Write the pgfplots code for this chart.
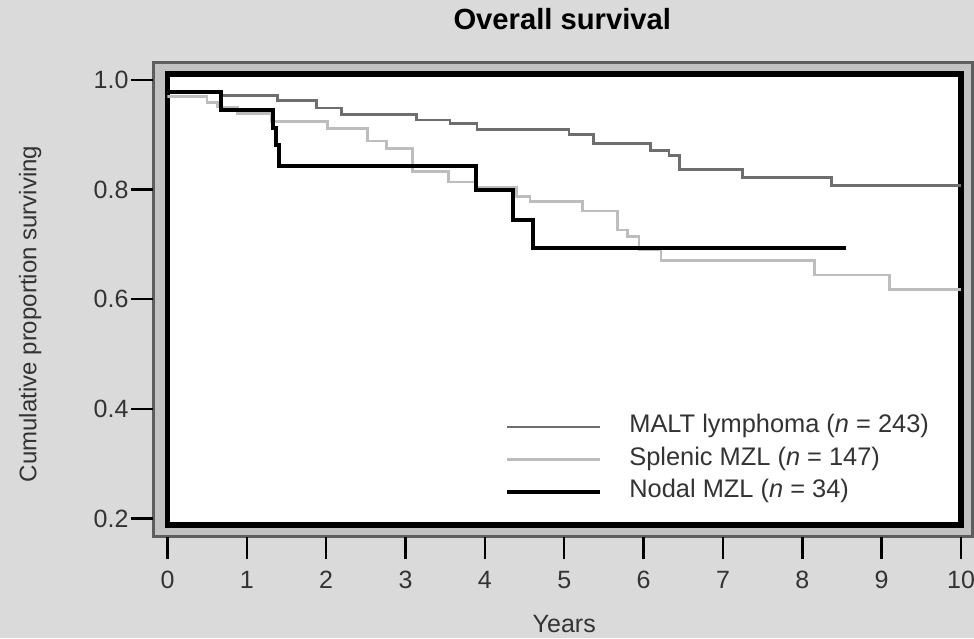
\documentclass[border=0pt]{standalone}
\usepackage{pgfplots}
\pgfplotsset{compat=1.18}
\usepackage{fontspec}
\setmainfont{Liberation Sans}
\definecolor{bgg}{HTML}{DADADA}
\definecolor{band}{HTML}{C2C2C2}
\definecolor{frm}{HTML}{5E5E5E}
\definecolor{malt}{HTML}{6E6E6E}
\definecolor{spl}{HTML}{BDBDBD}
\begin{document}
\begin{tikzpicture}
\useasboundingbox (-83.75pt,-56.5pt) rectangle (403.25pt,262.5pt);
\clip (-83.75pt,-56.5pt) rectangle (403.25pt,262.5pt);
\fill[bgg] (-83.75pt,-56.5pt) rectangle (403.25pt,262.5pt);
\filldraw[fill=band, draw=frm, line width=1.5pt] (-7pt,-5.75pt) rectangle (402.25pt,231pt);
\begin{axis}[
  scale only axis, width=396.75pt, height=225.5pt,
  xmin=0, xmax=10, ymin=0.188, ymax=1.011,
  axis background/.style={fill=white},
  axis line style={black, line width=2.75pt},
  tick align=outside, major tick length=11pt,
  xtick={0,1,...,10}, ytick={0.2,0.4,0.6,0.8,1.0},
  minor tick num=0,
  xtick style={yshift=-6pt, line width=1.2pt, black},
  ytick style={xshift=-7.25pt, line width=1.2pt, black},
  xtick pos=bottom, ytick pos=left,
  /pgf/number format/assume math mode=true,
  yticklabel style={/pgf/number format/fixed, /pgf/number format/fixed zerofill, /pgf/number format/precision=1, xshift=-5pt, font=\fontsize{12.5}{15}\selectfont, text=black!80},
  xticklabel style={yshift=-8.5pt, font=\fontsize{12.5}{15}\selectfont, text=black!80},
  title={Overall survival},
  title style={at={(axis description cs:0.4975,1.0954)}, anchor=center, font=\fontsize{14.6}{17}\selectfont\bfseries},
  xlabel={Years},
  xlabel style={at={(axis description cs:0.5,-0.2195)}, anchor=center, font=\fontsize{12.5}{15}\selectfont, text=black!80},
  ylabel={Cumulative proportion surviving},
  ylabel style={at={(axis description cs:-0.173,0.468)}, anchor=center, rotate=0, font=\fontsize{12}{15}\selectfont, text=black!80},
  legend cell align=left,
  legend image code/.code={\draw[#1] (0pt,0pt) -- (46.5pt,0pt);},
  legend style={at={(axis description cs:0.4253,0.2517)}, anchor=north west, draw=none, fill=none, inner sep=0pt,
    column sep=12pt, row sep=1.25pt,
    nodes={inner sep=1.5pt, text height=9pt, text depth=3pt, font=\fontsize{12.7}{15}\selectfont, text=black!80}},
]
\addplot[const plot, malt, line width=1.3pt] coordinates {
(0,0.978) (0.675,0.972) (1.39,0.963) (1.88,0.949) (2.19,0.937) (3.14,0.927) (3.56,0.921) (3.90,0.910) (5.06,0.901) (5.37,0.884) (6.09,0.871) (6.32,0.862) (6.45,0.837) (7.25,0.822) (8.37,0.808) (10,0.808)};
\addlegendentry{MALT lymphoma (\textit{n} = 243)}
\addplot[const plot, spl, line width=1.3pt] coordinates {
(0,0.970) (0.50,0.959) (0.63,0.951) (0.88,0.939) (1.31,0.924) (2.02,0.911) (2.52,0.889) (2.76,0.875) (3.09,0.833) (3.54,0.814) (3.90,0.805) (4.40,0.787) (4.57,0.778) (5.23,0.761) (5.67,0.726) (5.80,0.714) (5.94,0.690) (6.22,0.671) (8.15,0.644) (9.10,0.618) (10,0.618)};
\addlegendentry{Splenic MZL (\textit{n} = 147)}
\addplot[const plot, black, line width=2pt] coordinates {
(0,0.978) (0.67,0.945) (1.33,0.912) (1.37,0.881) (1.40,0.843) (3.89,0.799) (4.36,0.744) (4.61,0.693) (8.55,0.693)};
\addlegendentry{Nodal MZL (\textit{n} = 34)}
\end{axis}
\end{tikzpicture}
\end{document}
